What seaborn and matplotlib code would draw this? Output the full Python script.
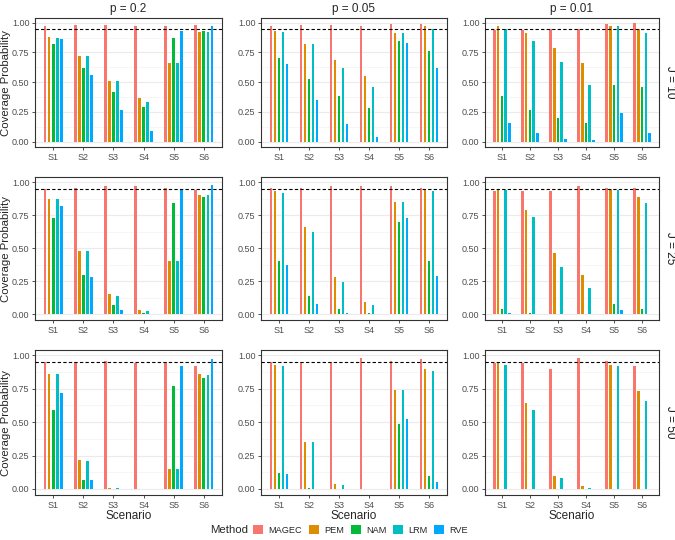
import numpy as np
import pandas as pd
import matplotlib
matplotlib.use("Agg")
import matplotlib.pyplot as plt
import seaborn as sns
from matplotlib.patches import Patch

scenarios = ["S1", "S2", "S3", "S4", "S5", "S6"]
methods = ["MAGEC", "PEM", "NAM", "LRM", "RVE"]
p_labels = ["p = 0.2", "p = 0.05", "p = 0.01"]
j_labels = ["J = 10", "J = 25", "J = 50"]
colors = ["#F8766D", "#DE8C00", "#00BA38", "#00BFC4", "#00A9FF"]

# rows = methods (MAGEC, PEM, NAM, LRM, RVE), columns = S1..S6
j10_p20 = [[.97, .98, .98, .97, .97, .98],
           [.88, .72, .51, .37, .66, .92],
           [.82, .62, .42, .29, .87, .93],
           [.87, .72, .51, .33, .66, .92],
           [.86, .56, .27, .09, .93, .97]]
j10_p05 = [[.97, .98, .98, .97, .99, .99],
           [.93, .82, .69, .55, .91, .97],
           [.70, .53, .38, .28, .85, .76],
           [.92, .82, .62, .46, .91, .95],
           [.65, .35, .15, .04, .83, .62]]
j10_p01 = [[.94, .94, .95, .95, .99, 1.00],
           [.97, .91, .79, .66, .97, .95],
           [.38, .27, .20, .16, .48, .46],
           [.95, .85, .67, .48, .97, .91],
           [.16, .07, .02, .01, .24, .07]]
j25_p20 = [[.95, .96, .97, .97, .96, .94],
           [.87, .48, .15, .03, .40, .90],
           [.73, .30, .07, .01, .84, .89],
           [.87, .48, .14, .02, .40, .90],
           [.82, .28, .03, .00, .94, .98]]
j25_p05 = [[.96, .96, .97, .97, .97, .96],
           [.93, .66, .28, .09, .85, .94],
           [.40, .14, .04, .01, .70, .40],
           [.92, .62, .24, .07, .85, .93],
           [.37, .08, .01, .00, .73, .29]]
j25_p01 = [[.93, .93, .93, .97, .96, .96],
           [.95, .79, .46, .30, .95, .89],
           [.04, .01, .00, .00, .08, .04],
           [.94, .74, .36, .20, .94, .84],
           [.01, .00, .00, .00, .03, .00]]
j50_p20 = [[.95, .95, .96, .94, .95, .92],
           [.86, .22, .01, .00, .15, .86],
           [.59, .07, .00, .00, .77, .83],
           [.86, .21, .01, .00, .15, .85],
           [.72, .07, .00, .00, .92, .97]]
j50_p05 = [[.95, .95, .95, .98, .96, .97],
           [.93, .35, .04, .00, .74, .90],
           [.12, .01, .00, .00, .49, .10],
           [.92, .35, .03, .00, .74, .88],
           [.11, .00, .00, .00, .52, .05]]
j50_p01 = [[.94, .94, .90, .98, .96, .92],
           [.94, .64, .10, .02, .93, .73],
           [.00, .00, .00, .00, .00, .00],
           [.93, .59, .08, .01, .92, .66],
           [.00, .00, .00, .00, .00, .00]]

panels = [[j10_p20, j10_p05, j10_p01],
          [j25_p20, j25_p05, j25_p01],
          [j50_p20, j50_p05, j50_p01]]

sns.set_theme(style="white")
plt.rcParams["font.family"] = ["Liberation Sans", "DejaVu Sans"]

W, H = 675, 540
fig = plt.figure(figsize=(W / 100, H / 100), dpi=100)

col_px = [(35, 222), (261, 447), (485, 659)]
row_px = [(18, 147), (177, 320), (350, 495)]

for r in range(3):
    for c in range(3):
        x0, x1 = col_px[c]
        y0, y1 = row_px[r]
        ax = fig.add_axes([x0 / W, (H - y1) / H, (x1 - x0) / W, (y1 - y0) / H])
        vals = panels[r][c]
        df = pd.DataFrame([(m, s, vals[i][k]) for i, m in enumerate(methods)
                           for k, s in enumerate(scenarios)],
                          columns=["Method", "Scenario", "Coverage"])
        sns.barplot(data=df, x="Scenario", y="Coverage", hue="Method",
                    order=scenarios, hue_order=methods, palette=colors,
                    saturation=1, width=0.67, gap=0.3, errorbar=None,
                    linewidth=0, legend=False, ax=ax, zorder=2)
        ax.axhline(0.95, color="black", ls=(0, (3, 2)), lw=0.8, zorder=3)
        ax.set_xlim(-0.6, 5.6)
        ax.set_ylim(-0.045, 1.04)
        ax.set_yticks([0, 0.25, 0.5, 0.75, 1.0])
        ax.set_yticks([0.125, 0.375, 0.625, 0.875], minor=True)
        ax.set_yticklabels(["0.00", "0.25", "0.50", "0.75", "1.00"])
        ax.grid(axis="y", which="major", color="#EBEBEB", lw=0.8, zorder=0)
        ax.grid(axis="y", which="minor", color="#F3F3F3", lw=0.5, zorder=0)
        ax.set_axisbelow(True)
        for sp in ax.spines.values():
            sp.set_color("#333333")
            sp.set_linewidth(0.8)
        ax.tick_params(axis="both", which="major", length=2.5, width=0.6,
                       color="#333333", labelcolor="#4D4D4D", labelsize=6.5,
                       pad=1.5, left=True, bottom=True)
        ax.tick_params(axis="y", which="minor", length=0)
        ax.set_xlabel("Scenario" if r == 2 else "", fontsize=8.5, labelpad=0)
        if c == 0:
            ax.set_ylabel("Coverage Probability", fontsize=8.2)
            ax.yaxis.set_label_coords(-24 / (x1 - x0), 0.5)
        else:
            ax.set_ylabel("")
        if r == 0:
            ax.set_title(p_labels[c], fontsize=8.5, pad=4)
        if c == 2:
            ax.text(1.03, 0.5, j_labels[r], transform=ax.transAxes,
                    rotation=-90, ha="left", va="center", fontsize=8.5,
                    color="#1A1A1A")

fig.text(210 / W, 1 - 530 / H, "Method", fontsize=8.2, ha="left", va="center")
handles = [Patch(facecolor=col, edgecolor="none") for col in colors]
fig.legend(handles, methods, loc="center left", ncol=5, frameon=False,
           bbox_to_anchor=(253 / W, 1 - 530 / H), fontsize=6.6,
           handlelength=1.1, handleheight=1.1, handletextpad=0.6,
           columnspacing=0.7, borderaxespad=0, borderpad=0)

fig.savefig("out.png", dpi=100)
